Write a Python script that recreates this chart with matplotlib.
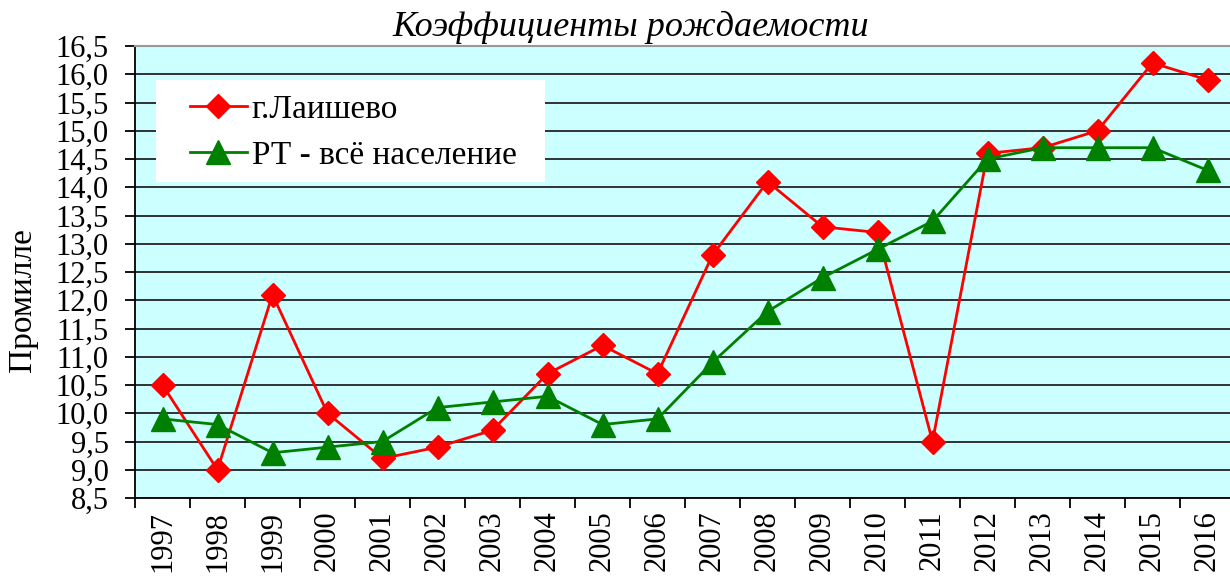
import matplotlib
matplotlib.use("Agg")
import matplotlib.pyplot as plt
from matplotlib.patches import Rectangle
from matplotlib.ticker import FuncFormatter, MultipleLocator

years = [str(y) for y in range(1997, 2017)]
laishevo = [10.5, 9.0, 12.1, 10.0, 9.2, 9.4, 9.7, 10.7, 11.2, 10.7,
            12.8, 14.1, 13.3, 13.2, 9.5, 14.6, 14.7, 15.0, 16.2, 15.9]
rt_all = [9.9, 9.8, 9.3, 9.4, 9.5, 10.1, 10.2, 10.3, 9.8, 9.9,
          10.9, 11.8, 12.4, 12.9, 13.4, 14.5, 14.7, 14.7, 14.7, 14.3]

plt.rcParams['font.family'] = ['Liberation Serif', 'DejaVu Serif']

fig = plt.figure(figsize=(12.3, 5.78), dpi=100)
ax = fig.add_axes([135 / 1230, 80 / 578, 1100 / 1230, 452 / 578])
ax.set_facecolor('#ccffff')

x = list(range(len(years)))
ax.plot(x, laishevo, color='#ff0000', lw=2, marker='D', ms=12,
        label='г.Лаишево', zorder=3)
ax.plot(x, rt_all, color='#008000', lw=2, marker='^', ms=17,
        label='РТ - всё население', zorder=3)

ax.set_xlim(-0.5, len(years) - 0.5)
ax.set_ylim(8.5, 16.5)
ax.yaxis.set_major_locator(MultipleLocator(0.5))
ax.yaxis.set_major_formatter(FuncFormatter(lambda v, p: f'{v:.1f}'.replace('.', ',')))
ax.grid(axis='y', color='#222222', lw=1.3)
ax.set_axisbelow(True)

ax.set_xticks([i - 0.5 for i in range(len(years) + 1)])
ax.set_xticklabels([])
ax.set_xticks(x, minor=True)
ax.set_xticklabels(years, minor=True, rotation=90, fontsize=22)
ax.tick_params(axis='x', which='minor', length=0, pad=9)
ax.tick_params(axis='x', which='major', length=7, width=1.3, direction='out')
ax.tick_params(axis='y', length=7, width=1.3, labelsize=22, pad=12)

ax.spines['top'].set_color('#999999')
ax.spines['top'].set_linewidth(1.5)
ax.spines['right'].set_visible(False)
ax.spines['left'].set_linewidth(1.3)
ax.spines['bottom'].set_linewidth(1.3)

ax.set_ylabel('Промилле', fontsize=24)
ax.yaxis.set_label_coords(-0.088, 0.438)
fig.text(631 / 1230, 1 - 27 / 578, 'Коэффициенты рождаемости', fontsize=26,
         style='italic', ha='center', va='center')

# white legend box
ax.add_patch(Rectangle((21 / 1100, 0.699), 389 / 1100, 0.2257,
                       transform=ax.transAxes, facecolor='white',
                       edgecolor='none', zorder=2.5))
ax.legend(loc='center left', bbox_to_anchor=(0.05, 0.8086),
          fontsize=24, frameon=False, borderpad=0, borderaxespad=0,
          handlelength=1.7, handletextpad=0.15, labelspacing=0.45)

fig.savefig('out.png', dpi=100)
